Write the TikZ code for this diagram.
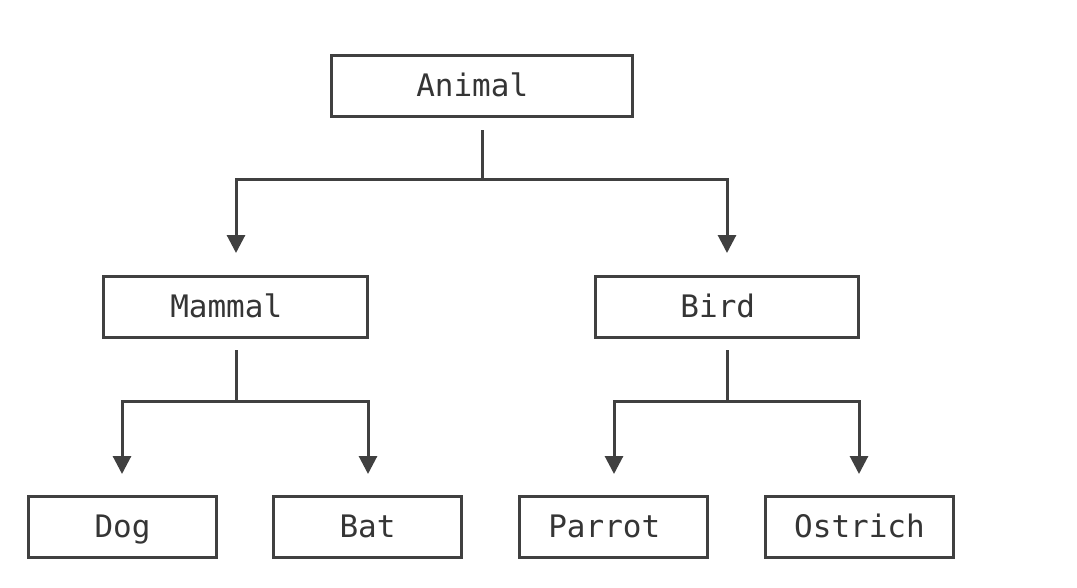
\documentclass[tikz,border=0pt]{standalone}
\usepackage{fontspec}
\setmonofont{DejaVu Sans Mono}
\usetikzlibrary{arrows.meta}
\definecolor{ink}{HTML}{404040}
\definecolor{txt}{HTML}{353535}
\tikzset{
  box/.style={draw=ink, line width=3pt, fill=white, inner sep=0pt, minimum height=61pt, text height=24pt, text depth=1.4pt, text=txt, font=\ttfamily\fontsize{31}{31}\selectfont},
  conn/.style={draw=ink, line width=3pt},
  arr/.style={conn, -{Triangle[width=18pt,length=18pt]}},
}
\newcommand{\lsh}{\hspace*{-18.5pt}}
\begin{document}
\begin{tikzpicture}[x=1pt,y=-1pt]
\useasboundingbox (0,0) rectangle (1077,587);
\node[box, minimum width=301pt] (animal) at (481.5,85.5) {\lsh Animal};
\node[box, minimum width=264pt] (mammal) at (235.5,306.5) {\lsh Mammal};
\node[box, minimum width=263pt] (bird) at (727,306.5) {\lsh Bird};
\node[box, minimum width=188pt] (dog) at (122.5,526.5) {Dog};
\node[box, minimum width=188pt] (bat) at (367.5,526.5) {Bat};
\node[box, minimum width=188pt] (parrot) at (613.5,526.5) {\lsh Parrot};
\node[box, minimum width=188pt] (ostrich) at (859.5,526.5) {Ostrich};
% Animal connectors
\coordinate (a0) at (482,130);
\coordinate (a1) at (482,179.5);
\coordinate (am) at (236,253);
\coordinate (ab) at (727,253);
\draw[conn] (a0) -- (a1);
\draw[arr] (a1) -| (am);
\draw[arr] (a1) -| (ab);
% Mammal connectors
\coordinate (m0) at (236,350);
\coordinate (m1) at (236,401);
\coordinate (md) at (122,474);
\coordinate (mb) at (368,474);
\draw[conn] (m0) -- (m1);
\draw[arr] (m1) -| (md);
\draw[arr] (m1) -| (mb);
% Bird connectors
\coordinate (b0) at (727,350);
\coordinate (b1) at (727,401);
\coordinate (bp) at (614,474);
\coordinate (bo) at (859,474);
\draw[conn] (b0) -- (b1);
\draw[arr] (b1) -| (bp);
\draw[arr] (b1) -| (bo);
\end{tikzpicture}
\end{document}
